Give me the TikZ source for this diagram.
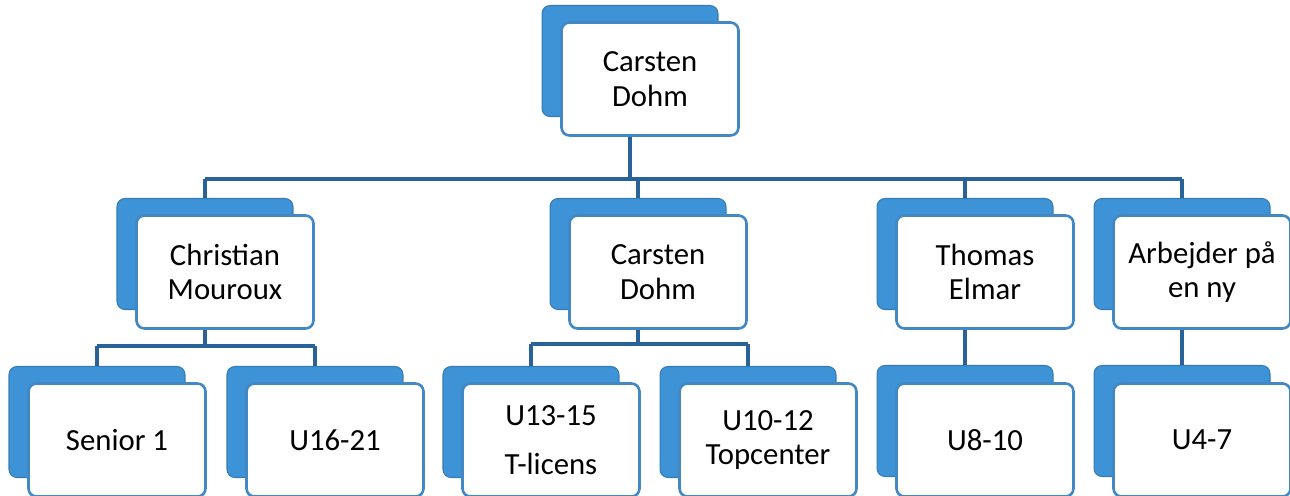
\documentclass[tikz,border=0pt]{standalone}
\usepackage{fontspec}
\setmainfont{Carlito}
\definecolor{tabblue}{RGB}{62,146,214}
\definecolor{boxblue}{RGB}{66,136,196}
\definecolor{linkblue}{RGB}{40,98,152}

\begin{document}
\begin{tikzpicture}[x = 0.02cm, y = -0.02cm]
\tikzstyle{BackStyle}=[shape = rectangle, rounded corners = 0.16cm,
                       minimum width = 3.52cm, minimum height = 2.22cm,
                       inner sep = 0pt, fill = tabblue,
                       draw = tabblue!85!black, line width = 0.6pt]
\tikzstyle{FrontStyle}=[shape = rectangle, rounded corners = 0.16cm,
                        minimum width = 3.54cm, minimum height = 2.26cm,
                        inner sep = 0pt, fill = white, draw = boxblue,
                        line width = 1.5pt, align = center,
                        font = \fontsize{17.5}{19.5}\selectfont]
\tikzstyle{LinkStyle}=[draw = linkblue, line width = 2pt]
\useasboundingbox (0,0) rectangle (1290,495);
\coordinate (c0) at (0,179);
\coordinate (c1) at (0,346);
\coordinate (c2) at (0,344);
\node[BackStyle] (v0) at (630,61) {};
\node[BackStyle] (v1) at (205,254) {};
\node[BackStyle] (v2) at (638,254) {};
\node[BackStyle] (v3) at (965,254) {};
\node[BackStyle] (v4) at (1182,254) {};
\node[BackStyle] (v5) at (97,422) {};
\node[BackStyle] (v6) at (315,422) {};
\node[BackStyle] (v7) at (531,422) {};
\node[BackStyle] (v8) at (748,422) {};
\node[BackStyle] (v9) at (965,421) {};
\node[BackStyle] (v10) at (1182,421) {};
\node[FrontStyle] (t0) at (650,79) {Carsten\\Dohm};
\node[FrontStyle] (t1) at (225,272) {Christian\\Mouroux};
\node[FrontStyle] (t2) at (658,272) {Carsten\\Dohm};
\node[FrontStyle] (t3) at (985,272) {Thomas\\Elmar};
\node[FrontStyle] (t4) at (1202,272) {Arbejder på\\en ny};
\node[FrontStyle] (t5) at (117,440) {Senior 1};
\node[FrontStyle] (t6) at (335,440) {U16-21};
\node[FrontStyle] (t7) at (551,440) {U13-15\\[0.3cm]T-licens};
\node[FrontStyle] (t8) at (768,440) {U10-12\\Topcenter};
\node[FrontStyle] (t9) at (985,440) {U8-10};
\node[FrontStyle] (t10) at (1202,440) {U4-7};
\draw[LinkStyle] (v0 |- t0.south) -- (v0 |- c0);
\draw[LinkStyle] (v1 |- c0) -- (v4 |- c0);
\draw[LinkStyle] (v1 |- c0) -- (v1.north);
\draw[LinkStyle] (v2 |- c0) -- (v2.north);
\draw[LinkStyle] (v3 |- c0) -- (v3.north);
\draw[LinkStyle] (v4 |- c0) -- (v4.north);
\draw[LinkStyle] (v1 |- t1.south) -- (v1 |- c1);
\draw[LinkStyle] (v5 |- c1) -- (v6 |- c1);
\draw[LinkStyle] (v5 |- c1) -- (v5.north);
\draw[LinkStyle] (v6 |- c1) -- (v6.north);
\draw[LinkStyle] (v2 |- t2.south) -- (v2 |- c2);
\draw[LinkStyle] (v7 |- c2) -- (v8 |- c2);
\draw[LinkStyle] (v7 |- c2) -- (v7.north);
\draw[LinkStyle] (v8 |- c2) -- (v8.north);
\draw[LinkStyle] (v3 |- t3.south) -- (v9.north);
\draw[LinkStyle] (v4 |- t4.south) -- (v10.north);
\end{tikzpicture}
\end{document}
